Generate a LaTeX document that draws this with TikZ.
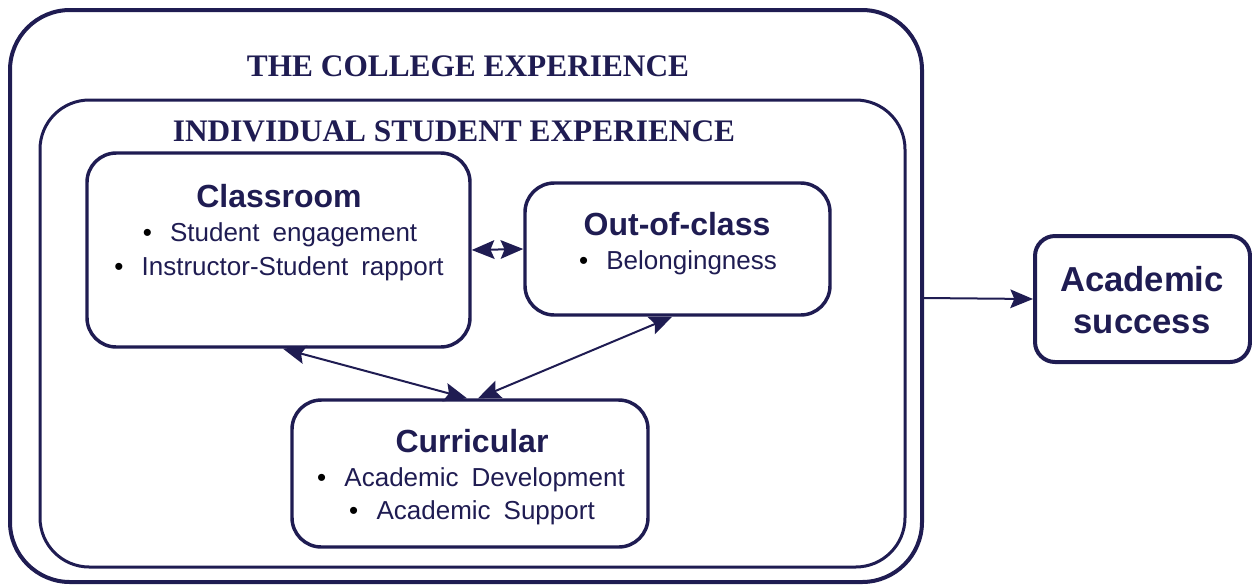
\documentclass[tikz,border=0pt]{standalone}
\usepackage{fontspec}
\setmainfont{Liberation Serif}
\setsansfont{Liberation Sans}
\usetikzlibrary{arrows.meta}
\definecolor{navy}{RGB}{31,28,82}
\newcommand{\widesp}{\spaceskip=0.5em\relax}
\tikzset{
  box/.style={draw=navy, line width=2.6pt, rounded corners=22pt, inner sep=0pt},
  ttl/.style={text=navy, font=\fontsize{23.5}{28}\selectfont\rmfamily\bfseries, inner sep=0pt, anchor=base},
  hdr/.style={text=navy, font=\fontsize{24}{28}\selectfont\sffamily\bfseries, inner sep=0pt, anchor=base},
  itm/.style={text=navy, font=\fontsize{19.5}{23}\selectfont\sffamily, inner sep=0pt, anchor=base},
  conn/.style={draw=navy, line width=1.5pt},
  arrowtip/.tip={Stealth[length=17pt,width=14pt,inset=3pt]}
}
\newcommand{\bul}{\widesp\textcolor{black}{\textbullet}\hspace{0.7em}}
\begin{document}
\begin{tikzpicture}[x=0.75pt,y=-0.75pt]
\useasboundingbox (0,0) rectangle (1252,587);
% frames
\node[box, line width=3pt, rounded corners=45pt, minimum width=684pt, minimum height=429pt] (outer) at (466,296) {};
\node[box, line width=2.25pt, rounded corners=37pt, minimum width=648.75pt, minimum height=350.25pt] (inner) at (472.5,333.5) {};
\node[ttl] (t1) at (468,76) {THE COLLEGE EXPERIENCE};
\node[ttl] (t2) at (454,141) {INDIVIDUAL STUDENT EXPERIENCE};
% boxes
\node[box, minimum width=287.25pt, minimum height=145.5pt] (cls) at (278.5,250) {};
\node[box, minimum width=228.75pt, minimum height=99pt] (out) at (677.5,249) {};
\node[box, minimum width=267pt, minimum height=110.25pt] (cur) at (470,473.5) {};
\node[box, line width=3pt, rounded corners=15pt, minimum width=161.25pt, minimum height=94.5pt] (acad) at (1142.5,299) {};
% texts
\node[hdr] (clsh) at (279,207) {Classroom};
\node[itm] (cls1) at (280,241) {\bul Student engagement};
\node[itm] (cls2) at (279,275) {\bul Instructor-Student rapport};
\node[hdr] (outh) at (677,235) {Out-of-class};
\node[itm] (out1) at (678,269) {\bul Belongingness};
\node[hdr] (curh) at (472,452) {Curricular};
\node[itm] (cur1) at (471,486) {\bul Academic Development};
\node[itm] (cur2) at (472,519) {\bul Academic Support};
\node[hdr, font=\fontsize{26}{30}\selectfont\sffamily\bfseries] (ac1) at (1142,291) {Academic};
\node[hdr, font=\fontsize{26}{30}\selectfont\sffamily\bfseries] (ac2) at (1142,333) {success};
% connectors
\draw[conn, arrowtip-arrowtip] (cls.east) -- (out.west);
\draw[conn, arrowtip-arrowtip] ([xshift=3.4pt]cls.south) -- ([xshift=-2.25pt]cur.north);
\draw[conn, arrowtip-arrowtip] ([xshift=-4pt]out.south) -- ([xshift=6pt]cur.north);
\draw[conn, -arrowtip] ([yshift=-1.5pt]outer.east) -- (acad.west);
\end{tikzpicture}
\end{document}
